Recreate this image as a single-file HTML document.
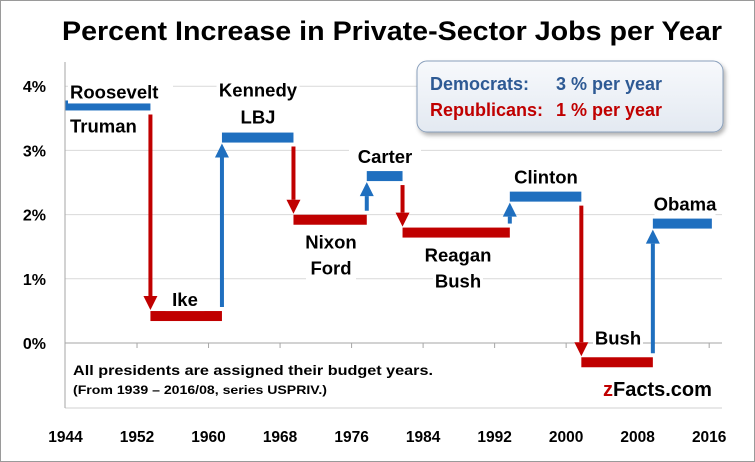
<!DOCTYPE html>
<html><head><meta charset="utf-8">
<style>
html,body{margin:0;padding:0;background:#fff;}
svg{display:block;font-family:"Liberation Sans",Arial,sans-serif;}
</style></head>
<body>
<svg id="chart" width="755" height="462" viewBox="0 0 755 462">
<defs>
<linearGradient id="lg" x1="0" y1="0" x2="0" y2="1"><stop offset="0" stop-color="#f7f9fc"/><stop offset="1" stop-color="#e3e9f1"/></linearGradient>
<filter id="sh" x="-10%" y="-10%" width="130%" height="140%"><feDropShadow dx="2" dy="3" stdDeviation="2" flood-color="#000" flood-opacity="0.3"/></filter>
</defs>
<rect x="0.5" y="0.5" width="754" height="461" fill="#fff" stroke="#9a9a9a"/>
<text x="392" y="40" text-anchor="middle" font-size="27" font-weight="bold" fill="#000" textLength="660" lengthAdjust="spacingAndGlyphs">Percent Increase in Private-Sector Jobs per Year</text>
<g id="grid"></g>
<g id="axes"></g>
<g id="marks"></g>
<g id="labels"></g>
<g>
<rect x="417" y="61" width="306" height="71" rx="10" fill="url(#lg)" stroke="#8aa0bc" filter="url(#sh)"/>
<text y="90" font-size="18" font-weight="bold" fill="#2e5a94"><tspan x="430">Democrats:</tspan><tspan x="556">3 % per year</tspan></text>
<text y="116" font-size="18" font-weight="bold" fill="#c00000"><tspan x="430">Republicans:</tspan><tspan x="556">1 % per year</tspan></text>
</g>
<text x="73" y="375" font-size="14" font-weight="bold" textLength="360" lengthAdjust="spacingAndGlyphs">All presidents are assigned their budget years.</text>
<text x="73" y="394" font-size="11.5" font-weight="bold" textLength="254" lengthAdjust="spacingAndGlyphs">(From 1939 – 2016/08, series USPRIV.)</text>
<text x="603" y="396" font-size="20" font-weight="bold"><tspan fill="#c00000">z</tspan><tspan fill="#000">Facts.com</tspan></text>
</svg>
<script>
const yTicks=[0,1,2,3,4];
const xTicks=[1944,1952,1960,1968,1976,1984,1992,2000,2008,2016];
const starts=[1944,1953.5,1961.5,1969.5,1977.7,1981.7,1993.7,2001.7,2009.7];
const ends=[1953.5,1961.5,1969.5,1977.7,1981.7,1993.7,2001.7,2009.7,2016.3];
const values=[3.7,0.42,3.2,1.92,2.6,1.72,2.28,-0.3,1.86];
const parties=["D","R","D","R","D","R","D","R","D"];
const names=[["Roosevelt","Truman"],["Ike"],["Kennedy","LBJ"],["Nixon","Ford"],["Carter"],["Reagan","Bush"],["Clinton"],["Bush"],["Obama"]];
const NS="http://www.w3.org/2000/svg";
const X=v=>65.5+(v-1944)*8.94;
const Y=v=>343-v*64.2;
const col=p=>p==="D"?"#1f6fbf":"#c00000";
function mk(tag,attrs,parent,txt){const e=document.createElementNS(NS,tag);for(const k in attrs)e.setAttribute(k,attrs[k]);if(txt!==undefined)e.textContent=txt;parent.appendChild(e);return e;}
const grid=document.getElementById('grid'),axes=document.getElementById('axes'),marks=document.getElementById('marks'),labels=document.getElementById('labels');
yTicks.forEach(t=>{
 if(t!==0){const g=mk('line',{x1:65,x2:722,y1:Y(t),y2:Y(t),stroke:'#d9d9d9'},grid);
 
 }
 const l=mk('text',{x:46,y:Y(t)+6,'text-anchor':'end','font-size':16,'font-weight':'bold'},axes,t+'%');
 
 
});
const zl=mk('line',{x1:65,x2:722,y1:Y(0),y2:Y(0),stroke:'#a6a6a6'},axes);


const bl=mk('line',{x1:65,x2:722,y1:408,y2:408,stroke:'#d0d0d0'},axes);


const yl=mk('line',{x1:65,x2:65,y1:62,y2:408,stroke:'#a6a6a6'},axes);


xTicks.forEach(t=>{
 if(t!==1944){const tk=mk('line',{x1:X(t),x2:X(t),y1:Y(0),y2:Y(0)+5,stroke:'#a6a6a6'},axes);
 
 }
 const l=mk('text',{x:X(t),y:442,'text-anchor':'middle','font-size':15.5,'font-weight':'bold'},axes,t);
 
 
});
values.forEach((v,i)=>{
 const r=mk('rect',{x:X(starts[i]),y:Y(v)-5,width:X(ends[i])-X(starts[i]),height:10,fill:col(parties[i])},marks);
 
 
 if(i>0){
  const x=X(starts[i]),y0=Y(values[i-1]),y1=Y(v),c=col(parties[i]);
  const dir=y1>y0?1:-1;
  const a=y0+dir*9,b=y1-dir*6,head=b-dir*14;
  const g=mk('g',{},marks);
  
  
  mk('line',{x1:x,x2:x,y1:a,y2:head,stroke:c,'stroke-width':4},g);
  mk('polygon',{points:`${x-7},${head} ${x+7},${head} ${x},${b}`,fill:c},g);
 }
 const lines=names[i];
 const pos=[117,185,258,331,385,458,546,618,685];
 const cx=pos[i];
 lines.forEach((n,j)=>{
  let yy;
  if(i===0){yy=j===0?Y(v)-7:Y(v)+27;}
  else if(i===3||i===5){yy=Y(v)+29+j*26;}
  else if(i===2){yy=Y(v)-41+j*27;}
  else yy=Y(v)-13;
  if(i===1)yy=Y(v)-10;
  if(i===7)yy=Y(v)-18;
  const bw=n.length*11+6;
  const bg=mk('rect',{x:cx-bw/2,y:yy-17,width:bw,height:22,fill:'#fff'},labels);
  
  
  const t=mk('text',{x:cx,y:yy,'text-anchor':'middle','font-size':18.5,'font-weight':'bold'},labels,n);
  
  
 });
});
labels.querySelectorAll('text').forEach(t=>{if(t.textContent==='Roosevelt'||t.textContent==='Truman'){t.setAttribute('text-anchor','start');t.setAttribute('x',70);t.previousSibling.setAttribute('x',68);}});
</script>
</body></html>
